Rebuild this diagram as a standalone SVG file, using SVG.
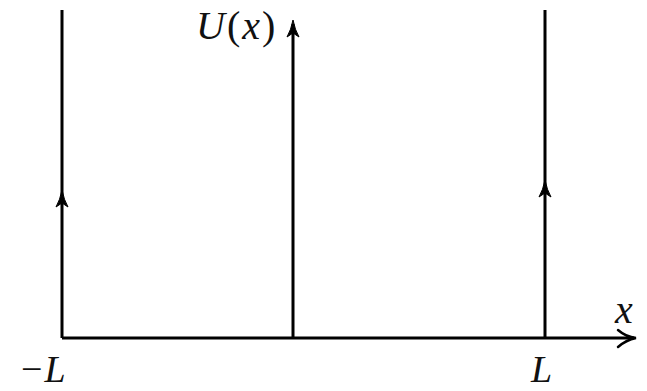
<svg xmlns="http://www.w3.org/2000/svg" width="647" height="391" viewBox="0 0 647 391">
<style>
.ln{stroke:#000;stroke-width:3;fill:none}
.ah{fill:#000;stroke:#000;stroke-width:1}
.open{stroke:#000;stroke-width:2.5;fill:none;stroke-linecap:round}
.t{font-family:"Liberation Serif","DejaVu Serif",serif;font-style:italic;font-size:40px;fill:#111}
.b{font-size:38px}
</style>
<rect width="647" height="391" fill="#fff"/>
<g id="connectors">
<line class="ln" x1="62" y1="338" x2="634" y2="338"/>
<path class="open" d="M618,330 Q626,337 636,338 Q626,340 618,347"/>
<line class="ln" x1="62" y1="338" x2="62" y2="10"/>
<path class="ah" d="M62,190 Q64,200 68,207 L62,203 L56,207 Q60,200 62,190 Z"/>
<line class="ln" x1="293" y1="338" x2="293" y2="24"/>
<path class="ah" d="M293,20 Q295,30 299,37 L293,33 L287,37 Q291,30 293,20 Z"/>
<line class="ln" x1="545" y1="338" x2="545" y2="10"/>
<path class="ah" d="M545,180 Q547,190 551,197 L545,193 L539,197 Q543,190 545,180 Z"/>
</g>
<g id="label-U"><text class="t" x="196" y="39" letter-spacing="2">U<tspan font-style="normal">(</tspan>x<tspan font-style="normal">)</tspan></text></g>
<g id="label-x"><text class="t" x="615" y="323">x</text></g>
<g id="label-minusL"><text class="t b" x="21" y="382"><tspan font-style="normal">−</tspan><tspan dx="2">L</tspan></text></g>
<g id="label-L"><text class="t b" x="531" y="382">L</text></g>
</svg>
